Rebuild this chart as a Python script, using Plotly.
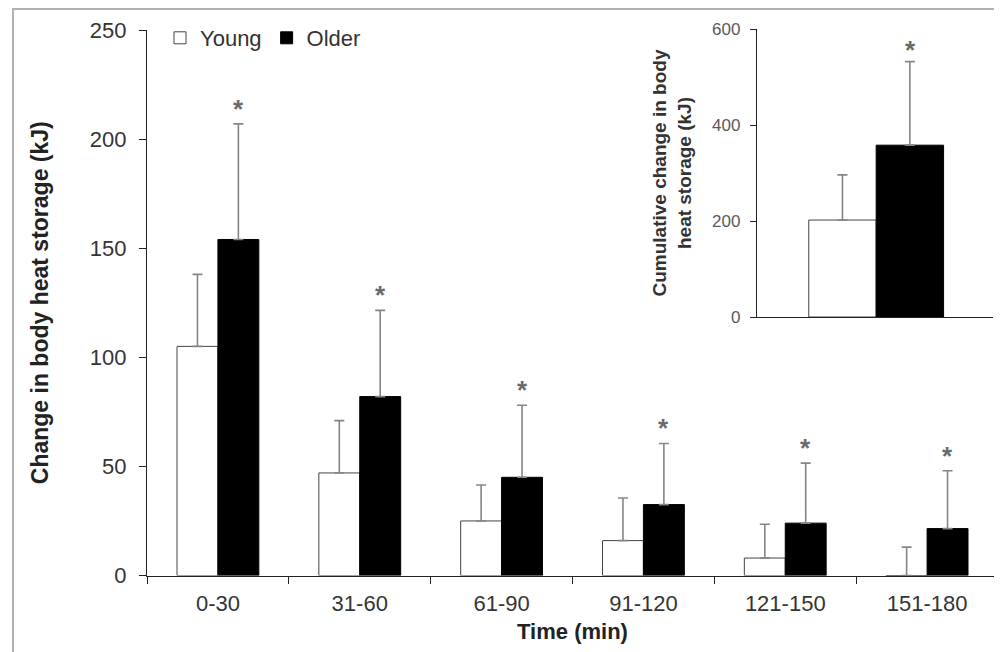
import plotly.graph_objects as go

categories = ["0-30", "31-60", "61-90", "91-120", "121-150", "151-180"]
young = [105, 47, 25, 16, 8, 0]
young_err = [33, 24, 16.5, 19.5, 15.5, 13]
older = [154, 82, 45, 32.5, 24, 21.5]
older_err = [53, 39.5, 33, 28, 27.5, 26.5]
sig = [True, True, True, True, True, True]

cum_cat = ["Cumulative"]
cum_young = [202]
cum_young_err = [94]
cum_older = [358]
cum_older_err = [174]

# page has an 8px body margin; lay out in viewport pixel coordinates
OFF = 8
W, H = 1002 - OFF, 652 - OFF
def px(x):
    return (x - OFF) / W
def py(y):
    return 1 - (y - OFF) / H

FONT = "Liberation Sans, Arial, sans-serif"
TICKC = "#353535"
ERRC = "#858585"
AXC = "#222222"

fig = go.Figure()

fig.add_trace(go.Bar(
    name="Young", x=categories, y=young,
    marker=dict(color="white", line=dict(color="#444444", width=1)),
    error_y=dict(type="data", symmetric=False, array=young_err,
                 arrayminus=[0] * len(young), color=ERRC, thickness=1.6, width=5),
    xaxis="x", yaxis="y",
))
fig.add_trace(go.Bar(
    name="Older", x=categories, y=older,
    marker=dict(color="black", line=dict(color="black", width=1)),
    error_y=dict(type="data", symmetric=False, array=older_err,
                 arrayminus=[0] * len(older), color=ERRC, thickness=1.6, width=5),
    xaxis="x", yaxis="y",
))

# inset
fig.add_trace(go.Bar(
    name="Young", x=cum_cat, y=cum_young, showlegend=False,
    marker=dict(color="white", line=dict(color="#444444", width=1)),
    error_y=dict(type="data", symmetric=False, array=cum_young_err,
                 arrayminus=[0], color=ERRC, thickness=1.6, width=5),
    xaxis="x2", yaxis="y2",
))
fig.add_trace(go.Bar(
    name="Older", x=cum_cat, y=cum_older, showlegend=False,
    marker=dict(color="black", line=dict(color="black", width=1)),
    error_y=dict(type="data", symmetric=False, array=cum_older_err,
                 arrayminus=[0], color=ERRC, thickness=1.6, width=5),
    xaxis="x2", yaxis="y2",
))

annotations = []
for c, v, e, s in zip(categories, older, older_err, sig):
    if s:
        annotations.append(dict(x=c, y=v + e, xref="x", yref="y", text="<b>*</b>",
                                showarrow=False, xshift=20.5, yshift=15,
                                yanchor="middle",
                                font=dict(family=FONT, size=26, color="#6a6a6a")))
annotations.append(dict(x=cum_cat[0], y=cum_older[0] + cum_older_err[0], xref="x2", yref="y2",
                        text="<b>*</b>", showarrow=False, xshift=34, yshift=12, yanchor="middle",
                        font=dict(family=FONT, size=26, color="#6a6a6a")))

fig.update_layout(
    width=W, height=H,
    margin=dict(l=0, r=0, t=0, b=0),
    paper_bgcolor="white", plot_bgcolor="rgba(0,0,0,0)",
    barmode="group", bargap=0.423, bargroupgap=0,
    font=dict(family=FONT, color=TICKC),
    showlegend=True,
    legend=dict(orientation="h", x=px(160), y=py(17), xanchor="left", yanchor="top",
                bgcolor="rgba(0,0,0,0)", font=dict(family=FONT, size=22, color="#333333"),
                itemwidth=30, traceorder="normal", tracegroupgap=0, itemclick=False),
    xaxis=dict(domain=[px(147), px(998)], anchor="y", type="category",
               showline=True, linecolor=AXC, linewidth=1.3,
               ticks="outside", tickson="boundaries", ticklen=7, tickcolor=AXC,
               tickfont=dict(size=22, color=TICKC), ticklabelstandoff=8,
               showgrid=False, zeroline=False,
               title=dict(text="<b>Time (min)</b>", font=dict(size=22, color="#222222"), standoff=8),
               automargin=False),
    yaxis=dict(domain=[py(575.5), py(30)], anchor="x", range=[0, 250], dtick=50,
               showline=True, linecolor=AXC, linewidth=1.3,
               ticks="outside", ticklen=7, tickcolor=AXC,
               tickfont=dict(size=22, color=TICKC), ticklabelstandoff=8,
               showgrid=False, zeroline=False,
               title=dict(text="<b>Change in body heat storage (kJ)</b>",
                          font=dict(size=23, color="#222222"), standoff=34),
               automargin=False),
    xaxis2=dict(domain=[px(757), px(993)], anchor="y2", type="category",
                range=[-0.51, 0.5],
                showline=True, linecolor=AXC, linewidth=1.3,
                ticks="", showticklabels=False, showgrid=False, zeroline=False,
                automargin=False),
    yaxis2=dict(domain=[py(317), py(29)], anchor="x2", range=[0, 600], dtick=200,
                showline=True, linecolor=AXC, linewidth=1.3,
                ticks="outside", ticklen=6, tickcolor=AXC,
                tickfont=dict(size=17, color="#5a5a5a"), ticklabelstandoff=6,
                showgrid=False, zeroline=False,
                title=dict(text="<b>Cumulative change in body<br>heat storage (kJ)</b>",
                           font=dict(size=19, color="#333333"), standoff=15),
                automargin=False),
    annotations=annotations,
    shapes=[
        dict(type="line", xref="paper", yref="paper", x0=px(13), x1=px(13), y0=0, y1=py(8),
             line=dict(color="#b0b0b8", width=2)),
        dict(type="line", xref="paper", yref="paper", x0=px(13), x1=1, y0=py(9), y1=py(9),
             line=dict(color="#b0b0b8", width=2)),
    ],
)

fig.write_html("out.html")
